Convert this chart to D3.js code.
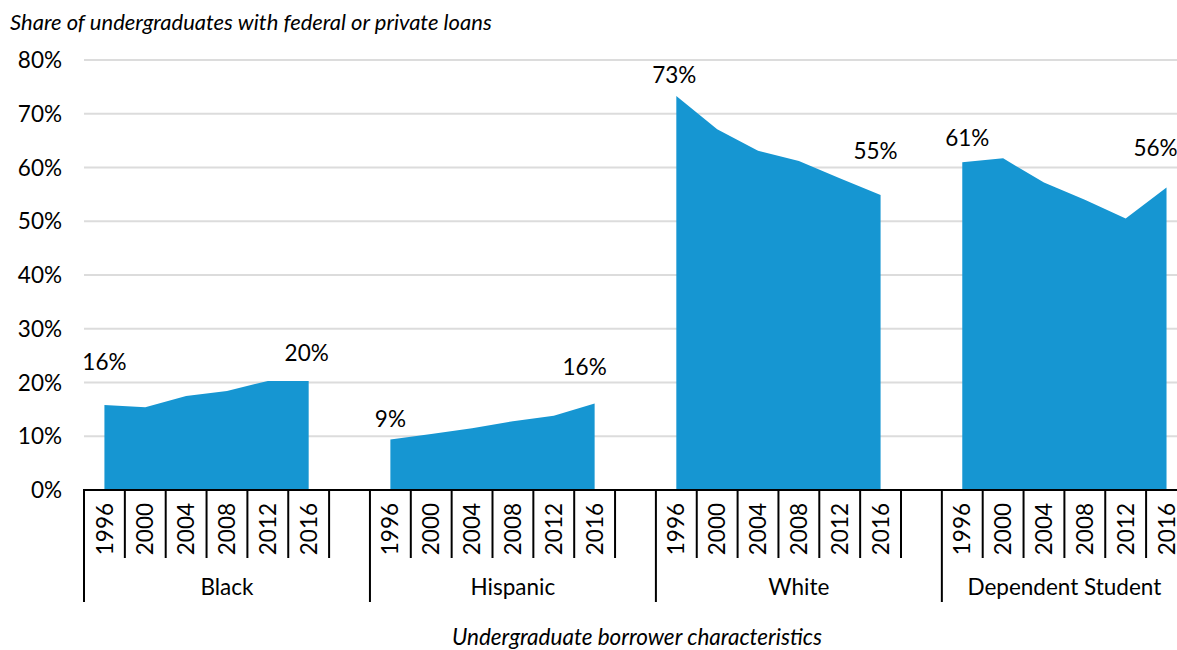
<!DOCTYPE html>
<html>
<head>
<meta charset="utf-8">
<script src="https://cdn.jsdelivr.net/npm/d3@7"></script>
<style>
  body { margin: 0; background: #fff; }
  svg { display: block; font-family: 'Lato', sans-serif; }
</style>
</head>
<body>
<div class="chart"></div>
<script>
const years = ['1996', '2000', '2004', '2008', '2012', '2016'];
const groups = ['Black', 'Hispanic', 'White', 'Dependent Student'];

const blackValues = [15.8, 15.4, 17.5, 18.4, 20.3, 20.3];
const hispanicValues = [9.4, 10.4, 11.5, 12.8, 13.8, 16.1];
const whiteValues = [73.3, 67.1, 63.1, 61.2, 58.0, 54.9];
const dependentValues = [61.0, 61.7, 57.2, 54.0, 50.5, 56.3];

const yTicks = [0, 10, 20, 30, 40, 50, 60, 70, 80];

const seriesValues = [blackValues, hispanicValues, whiteValues, dependentValues];

// hand placed label nudges [dx, dy above point] for first / last label of each group
const labelNudge = [
  [[0, 43], [-2, 28]],
  [[0, 21], [-10, 37]],
  [[-2, 21], [-5, 44]],
  [[5, 24], [-11, 39]]
];

const width = 1177;
const height = 650;
const margin = { top: 60, left: 84, bottom: 160 };
const band = 40.85;
const fs = 22.5;

const svg = d3.select('.chart')
  .append('svg')
  .attr('width', width)
  .attr('height', height);

// one slot per year, plus an empty slot between groups
const slots = [];
groups.forEach((g, gi) => {
  years.forEach(yr => slots.push(g + '|' + yr));
  if (gi < groups.length - 1) slots.push(g + '|gap');
});

const x = d3.scaleBand()
  .domain(slots)
  .range([margin.left, margin.left + band * slots.length])
  .padding(0);

const y = d3.scaleLinear()
  .domain([0, 80])
  .range([height - margin.bottom, margin.top]);

const y0 = y(0);

// gridlines
svg.append('g')
  .selectAll('line')
  .data(yTicks.filter(d => d > 0))
  .enter()
  .append('line')
  .attr('x1', margin.left)
  .attr('x2', width)
  .attr('y1', d => y(d))
  .attr('y2', d => y(d))
  .attr('stroke', '#dcdcdc')
  .attr('stroke-width', 2);

svg.append('g')
  .selectAll('text')
  .data(yTicks)
  .enter()
  .append('text')
  .attr('x', 62)
  .attr('y', d => y(d))
  .attr('dy', '0.36em')
  .attr('text-anchor', 'end')
  .attr('font-size', fs)
  .attr('fill', '#000')
  .text(d => d + '%');

// areas
const area = d3.area()
  .x(d => x(d.key) + x.bandwidth() / 2)
  .y0(y0)
  .y1(d => y(d.value));

groups.forEach((g, gi) => {
  const pts = years.map((yr, i) => ({ key: g + '|' + yr, value: seriesValues[gi][i] }));
  svg.append('path')
    .attr('d', area(pts))
    .attr('fill', '#1696d2');

  [0, years.length - 1].forEach((idx, li) => {
    const p = pts[idx];
    const nudge = labelNudge[gi][li];
    svg.append('text')
      .attr('x', x(p.key) + x.bandwidth() / 2 + nudge[0])
      .attr('y', y(p.value) - nudge[1])
      .attr('dy', '0.36em')
      .attr('text-anchor', 'middle')
      .attr('font-size', fs)
      .attr('fill', '#000')
      .text(Math.round(p.value) + '%');
  });
});

// x axis
const axis = svg.append('g');

axis.append('line')
  .attr('x1', margin.left - 1)
  .attr('x2', width)
  .attr('y1', y0)
  .attr('y2', y0)
  .attr('stroke', '#000')
  .attr('stroke-width', 2);

const groupStarts = groups.map(g => g + '|' + years[0]);

axis.selectAll('.tick-line')
  .data(slots)
  .enter()
  .append('line')
  .attr('class', 'tick-line')
  .attr('x1', d => x(d))
  .attr('x2', d => x(d))
  .attr('y1', y0)
  .attr('y2', d => groupStarts.includes(d) ? 602 : 558)
  .attr('stroke', '#000')
  .attr('stroke-width', 2);

axis.selectAll('.year')
  .data(slots.filter(d => !d.endsWith('gap')))
  .enter()
  .append('text')
  .attr('class', 'year')
  .attr('transform', d => `translate(${x(d) + x.bandwidth() / 2},503) rotate(-90)`)
  .attr('dy', '0.36em')
  .attr('text-anchor', 'end')
  .attr('font-size', fs)
  .attr('fill', '#000')
  .text(d => d.split('|')[1]);

axis.selectAll('.group')
  .data(groups)
  .enter()
  .append('text')
  .attr('class', 'group')
  .attr('x', g => (x(g + '|' + years[0]) + x(g + '|' + years[years.length - 1]) + x.bandwidth()) / 2 +
    (g === groups[groups.length - 1] ? 0 : x.bandwidth() / 2))
  .attr('y', 595)
  .attr('text-anchor', 'middle')
  .attr('font-size', fs)
  .attr('fill', '#000')
  .text(g => g);

// titles
svg.append('text')
  .attr('x', 10)
  .attr('y', 30)
  .attr('font-size', 22)
  .attr('font-style', 'italic')
  .attr('fill', '#000')
  .text('Share of undergraduates with federal or private loans');

svg.append('text')
  .attr('x', 637)
  .attr('y', 645)
  .attr('text-anchor', 'middle')
  .attr('font-size', 22.5)
  .attr('font-style', 'italic')
  .attr('fill', '#000')
  .text('Undergraduate borrower characteristics');
</script>
</body>
</html>
